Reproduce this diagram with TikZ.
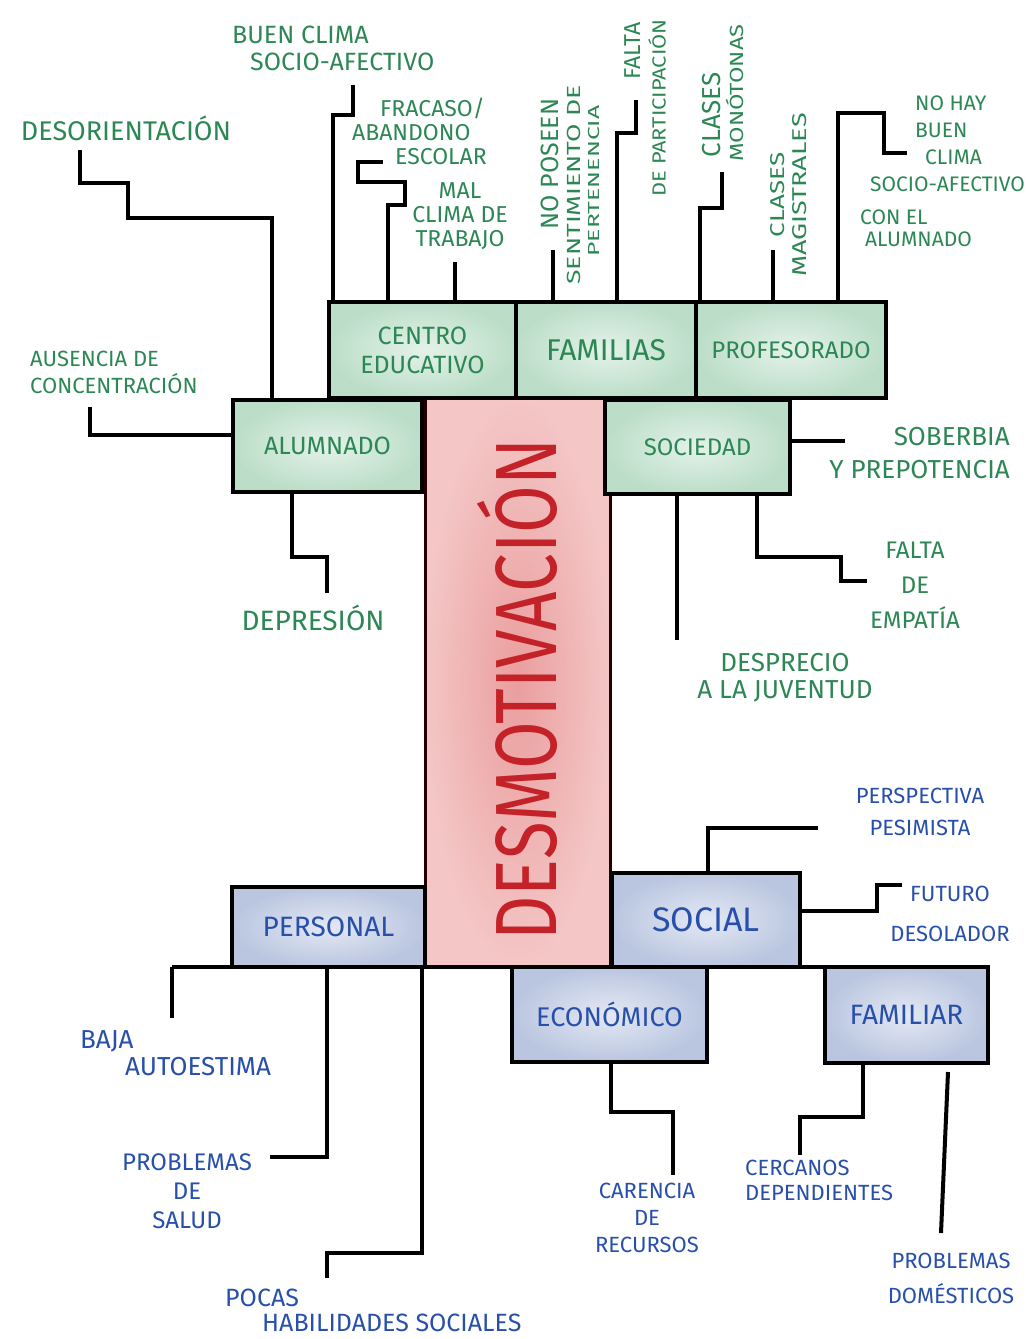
\documentclass[tikz,border=0pt]{standalone}
\usepackage{fontspec}
\setmainfont{Fira Sans}
\usepackage{graphicx}
\usetikzlibrary{calc}
\definecolor{gtext}{RGB}{45,135,85}
\definecolor{btext}{RGB}{40,80,170}
\definecolor{rtext}{RGB}{195,35,40}
\definecolor{gin}{RGB}{228,242,233}
\definecolor{gout}{RGB}{188,222,200}
\definecolor{bin}{RGB}{228,232,244}
\definecolor{bout}{RGB}{186,198,224}
\definecolor{rin}{RGB}{234,158,158}
\definecolor{rout}{RGB}{244,198,198}
\begin{document}
\begin{tikzpicture}[x=1pt,y=-1pt,
  gbox/.style={draw=black, line width=4pt, inner color=gin, outer color=gout, text=gtext, inner sep=0pt, outer sep=0pt, align=center},
  bbox/.style={draw=black, line width=4pt, inner color=bin, outer color=bout, text=btext, inner sep=0pt, outer sep=0pt, align=center},
  conn/.style={draw=black, line width=4pt},
  gl/.style 2 args={text=gtext, inner sep=0pt, font=\fontsize{#1}{#2}\selectfont},
  bl/.style 2 args={text=btext, inner sep=0pt, font=\fontsize{#1}{#2}\selectfont}]
\useasboundingbox[fill=white] (0,0) rectangle (1030,1339);

% central red box
\node[draw=black!85!red, line width=3pt, inner color=rin, outer color=rout, inner sep=0pt, outer sep=0pt,
      minimum width=185, minimum height=569, text=rtext] (desm) at (517.5,682.5)
      {\rotatebox{90}{\scalebox{1.19}[1.5]{\fontsize{58}{58}\selectfont DESMOTIVACIÓN}\hspace*{14pt}}};

% green boxes
\node[gbox, minimum width=187, minimum height=96, font=\fontsize{25}{29}\selectfont] (centro) at (422.5,350) {CENTRO\\EDUCATIVO};
\node[gbox, minimum width=180, minimum height=96, font=\fontsize{30}{30}\selectfont] (familias) at (606,350) {FAMILIAS};
\node[gbox, minimum width=190, minimum height=96, font=\fontsize{24}{24}\selectfont] (profesorado) at (791,350) {PROFESORADO};
\node[gbox, minimum width=189, minimum height=92, font=\fontsize{25}{25}\selectfont] (alumnado) at (327.5,446) {ALUMNADO};
\node[gbox, minimum width=185, minimum height=94, font=\fontsize{24}{24}\selectfont] (sociedad) at (697.5,447) {SOCIEDAD};

% blue boxes
\node[bbox, minimum width=193, minimum height=80, font=\fontsize{28}{28}\selectfont] (personal) at (328.5,927) {PERSONAL};
\node[bbox, minimum width=188, minimum height=94, font=\fontsize{34}{34}\selectfont] (social) at (706,920) {SOCIAL};
\node[bbox, minimum width=195, minimum height=95, font=\fontsize{27}{27}\selectfont] (economico) at (609.5,1014.5) {ECONÓMICO};
\node[bbox, minimum width=163, minimum height=96, font=\fontsize{28}{28}\selectfont] (familiar) at (906.5,1015) {FAMILIAR};

% base line under personal / social
\draw[conn] ([xshift=-60]personal.south west) -- (personal.south west -| familiar.north east);

% ---------- green labels ----------
\node[gl={25}{27}, align=left, anchor=west] (buen) at (232,48) {BUEN CLIMA\\\hspace*{18pt}SOCIO-AFECTIVO};
\node[gl={23}{24}, align=left, anchor=west] (fracaso) at (352,131) {\hspace*{28pt}FRACASO/\\ABANDONO\\\hspace*{43pt}ESCOLAR};
\node[gl={23}{24}, align=center] (mal) at (460,216) {MAL\\CLIMA DE\\TRABAJO};
\node[gl={25}{25}, rotate=90] (np1) at (550,164) {NO POSEEN};
\node[gl={19}{19}, rotate=90] (np2) at (574,185) {\scalebox{1.4}[1]{SENTIMIENTO DE}};
\node[gl={16}{16}, rotate=90] (np3) at (594,181) {\scalebox{1.55}[1]{PERTENENCIA}};
\node[gl={23}{23}, rotate=90] (fa1) at (633,51) {FALTA};
\node[gl={19}{19}, rotate=90] (fa2) at (657,108) {\scalebox{1.15}[1]{DE PARTICIPACIÓN}};
\node[gl={26}{26}, rotate=90] (cm1) at (712,115) {CLASES};
\node[gl={19}{19}, rotate=90] (cm2) at (735,93) {\scalebox{1.25}[1]{MONÓTONAS}};
\node[gl={20}{20}, rotate=90] (cg1) at (778,195) {\scalebox{1.3}[1]{CLASES}};
\node[gl={20}{20}, rotate=90] (cg2) at (800,195) {\scalebox{1.35}[1]{MAGISTRALES}};
\node[gl={21}{27}, align=left, anchor=north west] (nohay) at (860,96)
  {\hspace*{55pt}NO HAY\\\hspace*{55pt}BUEN\\\hspace*{65pt}CLIMA\\\hspace*{10pt}SOCIO-AFECTIVO\\[6pt]CON EL\\[-5pt]\hspace*{5pt}ALUMNADO};
\node[gl={27}{27}] (desor) at (126,128) {DESORIENTACIÓN};
\node[gl={22}{27}, align=left, anchor=west] (ausencia) at (30,372) {AUSENCIA DE\\CONCENTRACIÓN};
\node[gl={28}{28}] (depresion) at (313,618) {DEPRESIÓN};
\node[gl={26}{33}, align=right, anchor=east] (soberbia) at (1010,453) {SOBERBIA\\Y PREPOTENCIA};
\node[gl={24}{35}, align=center] (faltaemp) at (915,585) {FALTA\\DE\\EMPATÍA};
\node[gl={26}{27}, align=center] (desprecio) at (785,678) {DESPRECIO\\A LA JUVENTUD};

% ---------- blue labels ----------
\node[bl={22}{32}, align=center] (persp) at (920,812) {PERSPECTIVA\\PESIMISTA};
\node[bl={22}{40}, align=center] (futuro) at (950,914) {FUTURO\\DESOLADOR};
\node[bl={26}{27}, align=left, anchor=west] (baja) at (80,1053) {BAJA\\\hspace*{45pt}AUTOESTIMA};
\node[bl={24}{29}, align=center] (psalud) at (187,1191) {PROBLEMAS\\DE\\SALUD};
\node[bl={25}{25}, align=left, anchor=west] (pocas) at (225,1310) {POCAS\\\hspace*{37pt}HABILIDADES SOCIALES};
\node[bl={22}{27}, align=center] (carencia) at (647,1218) {CARENCIA\\DE\\RECURSOS};
\node[bl={22}{25}, align=left, anchor=west] (cercanos) at (745,1180) {CERCANOS\\DEPENDIENTES};
\node[bl={22}{35}, align=center] (pdom) at (951,1278) {PROBLEMAS\\DOMÉSTICOS};

% ---------- connector free ends ----------
\coordinate (e1) at (353,85);
\coordinate (e2) at (383,162);
\coordinate (e3) at (455,262);
\coordinate (e4) at (553,250);
\coordinate (e5) at (636,100);
\coordinate (e6) at (722,172);
\coordinate (e7) at (773,250);
\coordinate (e8) at (907,153);
\coordinate (e9) at (80,150);
\coordinate (e10) at (90,407);
\coordinate (e11) at (327,593);
\coordinate (e12) at (845,441);
\coordinate (e13) at (867,581);
\coordinate (e14) at (677,640);
\coordinate (e15) at (818,828);
\coordinate (e16) at (902,885);
\coordinate (e17) at (172,1018);
\coordinate (e18) at (270,1157);
\coordinate (e19) at (327,1278);
\coordinate (e20) at (673,1175);
\coordinate (e21) at (800,1155);
\coordinate (e22) at (941,1233);

% ---------- connectors ----------
\draw[conn] ([xshift=4]centro.north west) -- (333,115) -- (353,115) -- (e1);
\draw[conn] ([xshift=59]centro.north west) -- (388,205) -- (405,205) -- (405,182) -- (358,182) -- (358,162) -- (e2);
\draw[conn] ([xshift=126]centro.north west) -- (e3);
\draw[conn] ([xshift=37]familias.north west) -- (e4);
\draw[conn] ([xshift=101]familias.north west) -- (617,133) -- (636,133) -- (e5);
\draw[conn] ([xshift=4]profesorado.north west) -- (700,208) -- (722,208) -- (e6);
\draw[conn] ([xshift=77]profesorado.north west) -- (e7);
\draw[conn] ([xshift=142]profesorado.north west) -- (838,113) -- (884,113) -- (884,153) -- (e8);
\draw[conn] ([xshift=39]alumnado.north west) -- (272,218) -- (128,218) -- (128,183) -- (80,183) -- (e9);
\draw[conn] ($(alumnado.north west)+(0,35)$) -- (90,435) -- (e10);
\draw[conn] ([xshift=59]alumnado.south west) -- (292,557) -- (327,557) -- (e11);
\draw[conn] ($(sociedad.north east)+(0,41)$) -- (e12);
\draw[conn] ([xshift=152]sociedad.south west) -- (757,557) -- (841,557) -- (841,581) -- (e13);
\draw[conn] ([xshift=72]sociedad.south west) -- (e14);
\draw[conn] ([xshift=96]social.north west) -- (708,828) -- (e15);
\draw[conn] ($(social.north east)+(0,38)$) -- (877,911) -- (877,885) -- (e16);
\draw[conn] ([xshift=-60]personal.south west) -- (e17);
\draw[conn] ([xshift=95]personal.south west) -- (327,1157) -- (e18);
\draw[conn] ([xshift=190]personal.south west) -- (422,1253) -- (327,1253) -- (e19);
\draw[conn] ([xshift=99]economico.south west) -- (611,1112) -- (673,1112) -- (e20);
\draw[conn] ([xshift=38]familiar.south west) -- (863,1117) -- (800,1117) -- (e21);
\draw[conn] ($([xshift=123]familiar.south west)+(0,9)$) -- (e22);
\end{tikzpicture}
\end{document}
